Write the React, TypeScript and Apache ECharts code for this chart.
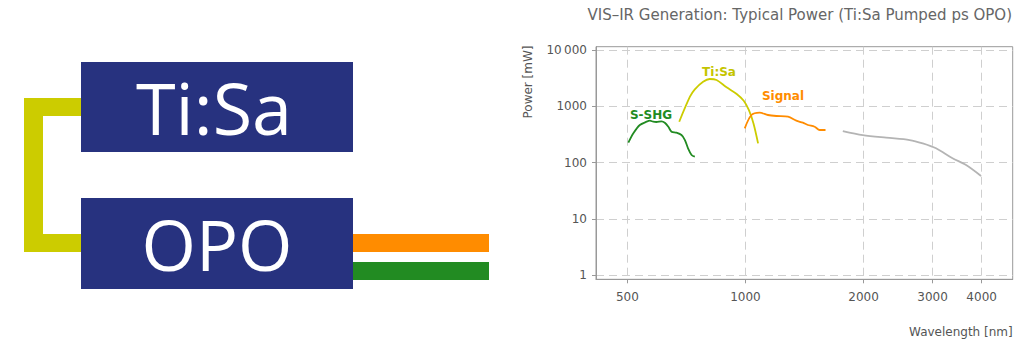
import React, { useEffect, useRef } from "react";
import * as echarts from "echarts";

const title = "VIS–IR Generation: Typical Power (Ti:Sa Pumped ps OPO)";
const xName = "Wavelength [nm]";
const yName = "Power [mW]";
const xTicks = [500, 1000, 2000, 3000, 4000];
const yTicks = [1, 10, 100, 1000, 10000];

const sshgWl = [503, 518, 538, 560, 571, 582, 593, 611, 623, 636, 648, 667, 687, 701, 714, 729, 743];
const sshgP = [225, 330, 464, 532, 554, 532, 525, 540, 510, 433, 353, 339, 308, 251, 179, 136, 127];

const tisaWl = [678, 722, 743, 780, 811, 844, 895, 950, 990, 1020, 1048, 1077];
const tisaP = [531, 1479, 2000, 2730, 3050, 2930, 2170, 1650, 1250, 860, 500, 219];

const signalWl = [996, 1036, 1087, 1141, 1199, 1284, 1348, 1401, 1443, 1501, 1546, 1600];
const signalP = [405, 699, 769, 699, 671, 653, 554, 510, 464, 433, 378, 378];

const idlerWl = [1771, 1991, 2284, 2621, 2831, 3061, 3372, 3651, 3986];
const idlerP = [363, 308, 276, 251, 219, 179, 119, 90, 57.5];

const NAVY = "#27327f";
const YELLOW = "#cccc00";
const ORANGE = "#ff8c00";
const GREEN = "#228b22";
const GREY = "#b4b4b4";
const FONT = "DejaVu Sans";

const pairs = (xs: number[], ys: number[]) => xs.map((x, i) => [x, ys[i]]);

export default function App() {
  const ref = useRef<HTMLDivElement>(null);
  useEffect(() => {
    document.body.style.margin = "0";
    const chart = echarts.init(ref.current!, null, { renderer: "svg" });
    const line = (name: string, data: number[][], color: string) => ({
      name,
      type: "line",
      data,
      showSymbol: false,
      symbol: "none",
      smooth: 0.3,
      lineStyle: { color, width: 1.8 },
      itemStyle: { color },
    });
    chart.setOption({
      animation: false,
      title: {
        text: title,
        right: 12,
        top: 7,
        padding: 0,
        textStyle: { fontFamily: FONT, fontSize: 15, fontWeight: "normal", color: "#666" },
      },
      grid: {
        left: 596,
        right: 11.3,
        top: 46.7,
        bottom: 71.7,
        show: true,
        borderColor: "#999",
        borderWidth: 1,
        backgroundColor: "transparent",
      },
      xAxis: {
        type: "log",
        min: 416,
        max: 4800,
        name: xName,
        nameLocation: "end",
        nameGap: 0,
        nameTextStyle: {
          fontFamily: FONT,
          fontSize: 12,
          color: "#555",
          align: "right",
          verticalAlign: "top",
          padding: [47, 0, 0, 0],
        },
        axisLine: { lineStyle: { color: "#999" } },
        axisTick: { customValues: xTicks, length: 4, lineStyle: { color: "#999" } },
        axisLabel: {
          customValues: xTicks,
          fontFamily: FONT,
          fontSize: 12,
          color: "#555",
          margin: 12,
          formatter: (v: number) => String(Math.round(v)),
        },
        splitLine: { show: true, lineStyle: { color: "#cfcfcf", type: [8, 5] } },
      },
      yAxis: {
        type: "log",
        min: 0.839,
        max: 11448,
        axisLine: { show: true, lineStyle: { color: "#999" } },
        axisTick: { show: true, customValues: yTicks, length: 4, lineStyle: { color: "#999" } },
        axisLabel: {
          customValues: yTicks,
          fontFamily: FONT,
          fontSize: 12,
          color: "#555",
          margin: 9,
          formatter: (v: number) => {
            const r = Math.round(v);
            return r >= 10000 ? "10\u2009000" : String(r);
          },
        },
        splitLine: { show: true, lineStyle: { color: "#cfcfcf", type: [8, 5] } },
      },
      series: [
        line("S-SHG", pairs(sshgWl, sshgP), GREEN),
        line("Ti:Sa", pairs(tisaWl, tisaP), YELLOW),
        line("Signal", pairs(signalWl, signalP), ORANGE),
        line("Idler", pairs(idlerWl, idlerP), GREY),
      ],
      graphic: [
        { type: "rect", shape: { x: 24, y: 98, width: 57, height: 18 }, style: { fill: YELLOW } },
        { type: "rect", shape: { x: 24, y: 98, width: 19, height: 154 }, style: { fill: YELLOW } },
        { type: "rect", shape: { x: 24, y: 234, width: 57, height: 18 }, style: { fill: YELLOW } },
        { type: "rect", shape: { x: 353, y: 234, width: 136, height: 18 }, style: { fill: ORANGE } },
        { type: "rect", shape: { x: 353, y: 262, width: 136, height: 18 }, style: { fill: GREEN } },
        { type: "rect", shape: { x: 81, y: 62, width: 272, height: 90 }, style: { fill: NAVY } },
        { type: "rect", shape: { x: 81, y: 198, width: 272, height: 91 }, style: { fill: NAVY } },
        {
          type: "text",
          x: 214,
          y: 107,
          style: { text: "Ti:Sa", fill: "#fff", font: "72px 'Open Sans'", align: "center", verticalAlign: "middle" },
        },
        {
          type: "text",
          x: 217,
          y: 244,
          style: { text: "OPO", fill: "#fff", font: "70px 'Open Sans'", align: "center", verticalAlign: "middle" },
        },
        {
          type: "text",
          x: 528,
          y: 82,
          rotation: Math.PI / 2,
          style: { text: yName, fill: "#555", font: `12px '${FONT}'`, align: "center", verticalAlign: "middle" },
        },
        {
          type: "text",
          x: 651,
          y: 115,
          style: { text: "S-SHG", fill: GREEN, font: `bold 12px '${FONT}'`, align: "center", verticalAlign: "middle" },
        },
        {
          type: "text",
          x: 719,
          y: 72,
          style: { text: "Ti:Sa", fill: "#c4c400", font: `bold 12px '${FONT}'`, align: "center", verticalAlign: "middle" },
        },
        {
          type: "text",
          x: 783,
          y: 96,
          style: { text: "Signal", fill: ORANGE, font: `bold 12px '${FONT}'`, align: "center", verticalAlign: "middle" },
        },
      ],
    });
    return () => chart.dispose();
  }, []);
  return <div ref={ref} style={{ width: 1024, height: 351 }} />;
}
